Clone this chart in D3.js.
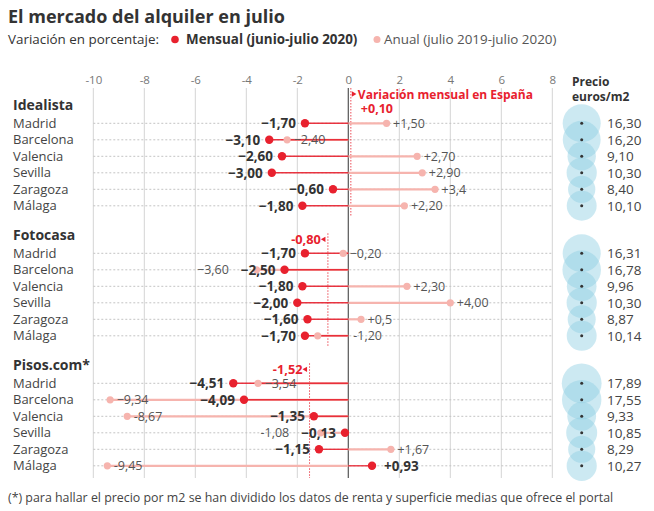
<!DOCTYPE html>
<html><head><meta charset="utf-8">
<script src="https://cdn.jsdelivr.net/npm/d3@7"></script>
<style>
body{margin:0;background:#fff;}
text{font-family:"Open Sans",sans-serif;}
</style></head>
<body><svg id="c" width="654" height="511"></svg>
<script>
const groups = ["Idealista", "Fotocasa", "Pisos.com*"];
const cities = ["Madrid", "Barcelona", "Valencia", "Sevilla", "Zaragoza", "Málaga"];
const idealistaMensual = [-1.70, -3.10, -2.60, -3.00, -0.60, -1.80];
const idealistaAnual = [1.50, -2.40, 2.70, 2.90, 3.4, 2.20];
const idealistaAnualLabels = ["+1,50", "−2,40", "+2,70", "+2,90", "+3,4", "+2,20"];
const idealistaPrecio = [16.30, 16.20, 9.10, 10.30, 8.40, 10.10];
const fotocasaMensual = [-1.70, -2.50, -1.80, -2.00, -1.60, -1.70];
const fotocasaAnual = [-0.20, -3.60, 2.30, 4.00, 0.5, -1.20];
const fotocasaAnualLabels = ["−0,20", "−3,60", "+2,30", "+4,00", "+0,5", "-1,20"];
const fotocasaPrecio = [16.31, 16.78, 9.96, 10.30, 8.87, 10.14];
const pisosMensual = [-4.51, -4.09, -1.35, -0.13, -1.15, 0.93];
const pisosAnual = [-3.54, -9.34, -8.67, -1.08, 1.67, -9.45];
const pisosAnualLabels = ["−3,54", "−9,34", "-8,67", "-1,08", "+1,67", "-9,45"];
const pisosPrecio = [17.89, 17.55, 9.33, 10.85, 8.29, 10.27];
const spainMensual = [0.10, -0.80, -1.52];
const spainLabels = ["+0,10", "-0,80", "-1,52"];
const axisTicks = [-10, -8, -6, -4, -2, 0, 2, 4, 6, 8];

// label placement hints (layout only)
const anualPlacement = [
  ["r","r","r","r","r","r"],
  ["r","lm","r","r","r","z"],
  ["r","r","r","lm","r","r"]
];

const mensualAll = [idealistaMensual, fotocasaMensual, pisosMensual];
const anualAll = [idealistaAnual, fotocasaAnual, pisosAnual];
const anualLblAll = [idealistaAnualLabels, fotocasaAnualLabels, pisosAnualLabels];
const precioAll = [idealistaPrecio, fotocasaPrecio, pisosPrecio];

const RED = "#e8212e", PINK = "#f6b4ae";
const svg = d3.select("#c");
const x = d3.scaleLinear().domain([-10, 8]).range([93.3, 552.3]);
const gridTop = 88, gridBot = 478;
const groupStart = g => 123.3 + g * 130;
const rowY = (g, i) => groupStart(g) + i * 16.5;
const fmt = v => (v > 0 ? "+" : (v < 0 ? "−" : "")) + Math.abs(v).toFixed(2).replace(".", ",");
const r = d3.scaleSqrt().domain([0, 17.89]).range([0, 19.9]);

// title
svg.append("text").attr("x", 8).attr("y", 23).attr("font-size", 18).attr("font-weight", 700)
  .attr("fill", "#333").text("El mercado del alquiler en julio");
const sub = svg.append("g").attr("font-size", 13.4).attr("fill", "#333");
sub.append("text").attr("x", 8).attr("y", 44).text("Variación en porcentaje:");
sub.append("circle").attr("cx", 175).attr("cy", 39.5).attr("r", 3.8).attr("fill", RED);
sub.append("text").attr("x", 186).attr("y", 44).attr("font-weight", 700).text("Mensual (junio-julio 2020)");
sub.append("circle").attr("cx", 377).attr("cy", 39.5).attr("r", 3.5).attr("fill", PINK);
sub.append("text").attr("x", 384).attr("y", 44).attr("fill", "#555").text("Anual (julio 2019-julio 2020)");

// gridlines
svg.append("g").selectAll("line").data(axisTicks.filter(t => t !== 0)).join("line")
  .attr("x1", d => x(d)).attr("x2", d => x(d)).attr("y1", gridTop).attr("y2", gridBot)
  .attr("stroke", "#d4d4d4").attr("stroke-width", 1);

// axis labels
const ax = svg.append("g").attr("transform", `translate(0,${gridTop - 3})`)
  .call(d3.axisTop(x).tickValues(axisTicks).tickSize(0).tickPadding(0).tickFormat(d => String(d).replace("−", "-")));
ax.select(".domain").remove();
ax.selectAll("text").attr("font-size", 11.5).attr("fill", "#777").attr("font-family", "Open Sans").attr("dy", "-0.1em");

// Precio header
svg.append("text").attr("x", 572).attr("y", 86).attr("font-size", 12).attr("font-weight", 700).attr("fill", "#333").text("Precio");
svg.append("text").attr("x", 572).attr("y", 100.5).attr("font-size", 12).attr("font-weight", 700).attr("fill", "#333").text("euros/m2");

// row dotted lines
groups.forEach((gname, g) => {
  cities.forEach((c, i) => {
    svg.append("line").attr("x1", x(-10)).attr("x2", x(8)).attr("y1", rowY(g, i)).attr("y2", rowY(g, i))
      .attr("stroke", "#c4c4c4").attr("stroke-dasharray", "2,2").attr("stroke-width", 1);
  });
});

// zero line
svg.append("line").attr("x1", x(0)).attr("x2", x(0)).attr("y1", gridTop).attr("y2", gridBot)
  .attr("stroke", "#555").attr("stroke-width", 1.2);

groups.forEach((gname, g) => {
  const G = svg.append("g");
  G.append("text").attr("x", 13).attr("y", groupStart(g) - 13).attr("font-size", 14).attr("font-weight", 700)
    .attr("fill", "#333").text(gname);
  const rows = cities.map((c, i) => ({c, i, m: mensualAll[g][i], a: anualAll[g][i], al: anualLblAll[g][i], p: precioAll[g][i], y: rowY(g, i), place: anualPlacement[g][i]}));

  G.selectAll(".city").data(rows).join("text").attr("x", 13).attr("y", d => d.y + 4.5)
    .attr("font-size", 13).attr("fill", "#444").text(d => d.c);

  // spain line
  const sx = x(spainMensual[g]);
  const top = g === 0 ? gridTop : groupStart(g) - 20;
  const bot = g === 2 ? gridBot : rowY(g, 5) + 10;
  G.append("line").attr("x1", sx).attr("x2", sx).attr("y1", top).attr("y2", bot)
    .attr("stroke", RED).attr("stroke-dasharray", "1.5,1.5").attr("stroke-width", 1).attr("opacity", 0.8);

  // anual lines
  G.selectAll(".al").data(rows).join("line").attr("x1", x(0)).attr("x2", d => x(d.a))
    .attr("y1", d => d.y).attr("y2", d => d.y).attr("stroke", PINK).attr("stroke-width", 2.2);
  // mensual lines
  G.selectAll(".ml").data(rows).join("line").attr("x1", x(0)).attr("x2", d => x(d.m))
    .attr("y1", d => d.y).attr("y2", d => d.y).attr("stroke", RED).attr("stroke-width", 1.4).attr("opacity", 0.9);
  // anual dots
  G.selectAll(".ad").data(rows).join("circle").attr("cx", d => x(d.a)).attr("cy", d => d.y).attr("r", 3.6).attr("fill", PINK);
  // mensual dots
  G.selectAll(".md").data(rows).join("circle").attr("cx", d => x(d.m)).attr("cy", d => d.y).attr("r", 4.2).attr("fill", RED);

  // mensual labels
  const ml = G.selectAll(".mlab").data(rows).join("text")
    .attr("x", d => d.m < 0 ? x(d.m) - 9 : x(d.m) + 12)
    .attr("y", d => d.y + 5).attr("text-anchor", d => d.m < 0 ? "end" : "start")
    .attr("font-size", 13.5).attr("font-weight", 700).attr("fill", "#333").text(d => fmt(d.m));
  const mlNodes = ml.nodes();

  // anual labels
  G.selectAll(".alab").data(rows).join("text")
    .attr("x", (d, i) => {
      if (d.place === "lm") { const bb = mlNodes[i].getBBox(); return bb.x - 12; }
      if (d.place === "z") return x(0) + 5;
      return x(d.a) + 6.5;
    })
    .attr("text-anchor", d => d.place === "lm" ? "end" : "start")
    .attr("y", d => d.y + 4.5).attr("font-size", 12.5).attr("fill", "#555").text(d => d.al);

  // spain label
  if (g === 0) {
    G.append("path").attr("d", d3.symbol(d3.symbolTriangle, 12)()).attr("transform", `translate(${sx + 2.5},${gridTop + 6}) rotate(90)`).attr("fill", RED);
    G.append("text").attr("x", sx + 7).attr("y", gridTop + 11).attr("font-size", 12).attr("font-weight", 700).attr("fill", RED).text("Variación mensual en España");
    G.append("text").attr("x", sx + 10).attr("y", gridTop + 24.5).attr("font-size", 12.5).attr("font-weight", 700).attr("fill", RED).text(spainLabels[g]);
  } else {
    const ly = groupStart(g) - 14;
    G.append("path").attr("d", d3.symbol(d3.symbolTriangle, 12)()).attr("transform", `translate(${sx - 4},${ly}) rotate(-90)`).attr("fill", RED);
    G.append("text").attr("x", sx - 7).attr("y", ly + 4.5).attr("text-anchor", "end").attr("font-size", 12.8).attr("font-weight", 700).attr("fill", RED).text(spainLabels[g]);
  }

  // bubbles
  const bx = 581.7;
  G.selectAll(".bub").data(rows).join("circle").attr("cx", bx).attr("cy", d => d.y).attr("r", d => r(d.p))
    .attr("fill", "#8fcfe2").attr("fill-opacity", 0.45);
  G.selectAll(".bdot").data(rows).join("circle").attr("cx", bx).attr("cy", d => d.y).attr("r", 1.5).attr("fill", "#333");
  G.selectAll(".blab").data(rows).join("text").attr("x", 607).attr("y", d => d.y + 5)
    .attr("font-size", 13.5).attr("fill", "#444").text(d => d.p.toFixed(2).replace(".", ","));
});

svg.append("text").attr("x", 8).attr("y", 502).attr("font-size", 12.4).attr("fill", "#444")
  .text("(*) para hallar el precio por m2 se han dividido los datos de renta y superficie medias que ofrece el portal");
</script></body></html>
